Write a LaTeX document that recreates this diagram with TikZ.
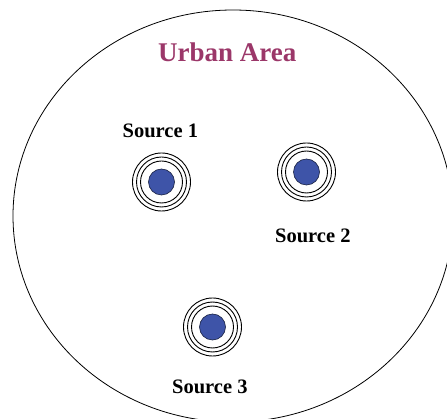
\documentclass[tikz,border=0pt]{standalone}
\usepackage{fontspec}
\setmainfont{Liberation Serif}
\definecolor{urbancol}{RGB}{155,55,105}
\definecolor{srcblue}{RGB}{62,84,168}
\begin{document}
\begin{tikzpicture}[x=1pt,y=-1pt,
  ring/.style={draw=black,line width=0.9pt,circle,inner sep=0pt,minimum size=#1},
  core/.style={draw=black!60!srcblue,fill=srcblue,line width=0.6pt,circle,inner sep=0pt,minimum size=26pt},
  lbl/.style={font=\bfseries\fontsize{20.5}{24}\selectfont,inner sep=0pt,anchor=base west},
  ]
\useasboundingbox (0,0) rectangle (447,419);
\clip (0,0) rectangle (447,419);
\draw[line width=0.8pt] (233,216) ellipse [x radius=220, y radius=206];
\node[font=\bfseries\fontsize{27}{30}\selectfont,text=urbancol,inner sep=0pt,anchor=base west] (title) at (158,62) {Urban Area};
% Source 1
\node[ring=58pt] (s1c) at (161.5,182) {};
\node[ring=50pt] (s1b) at (161.5,182) {};
\node[ring=42pt] (s1a) at (161.5,182) {};
\node[core] (s1) at (161.5,182) {};
\node[lbl] (l1) at (122.5,138) {Source 1};
% Source 2
\node[ring=58pt] (s2c) at (306.5,172) {};
\node[ring=50pt] (s2b) at (306.5,172) {};
\node[ring=42pt] (s2a) at (306.5,172) {};
\node[core] (s2) at (306.5,172) {};
\node[lbl] (l2) at (275,243) {Source 2};
% Source 3
\node[ring=58pt] (s3c) at (212.5,327) {};
\node[ring=50pt] (s3b) at (212.5,327) {};
\node[ring=42pt] (s3a) at (212.5,327) {};
\node[core] (s3) at (212.5,327) {};
\node[lbl] (l3) at (172,393) {Source 3};
\end{tikzpicture}
\end{document}
